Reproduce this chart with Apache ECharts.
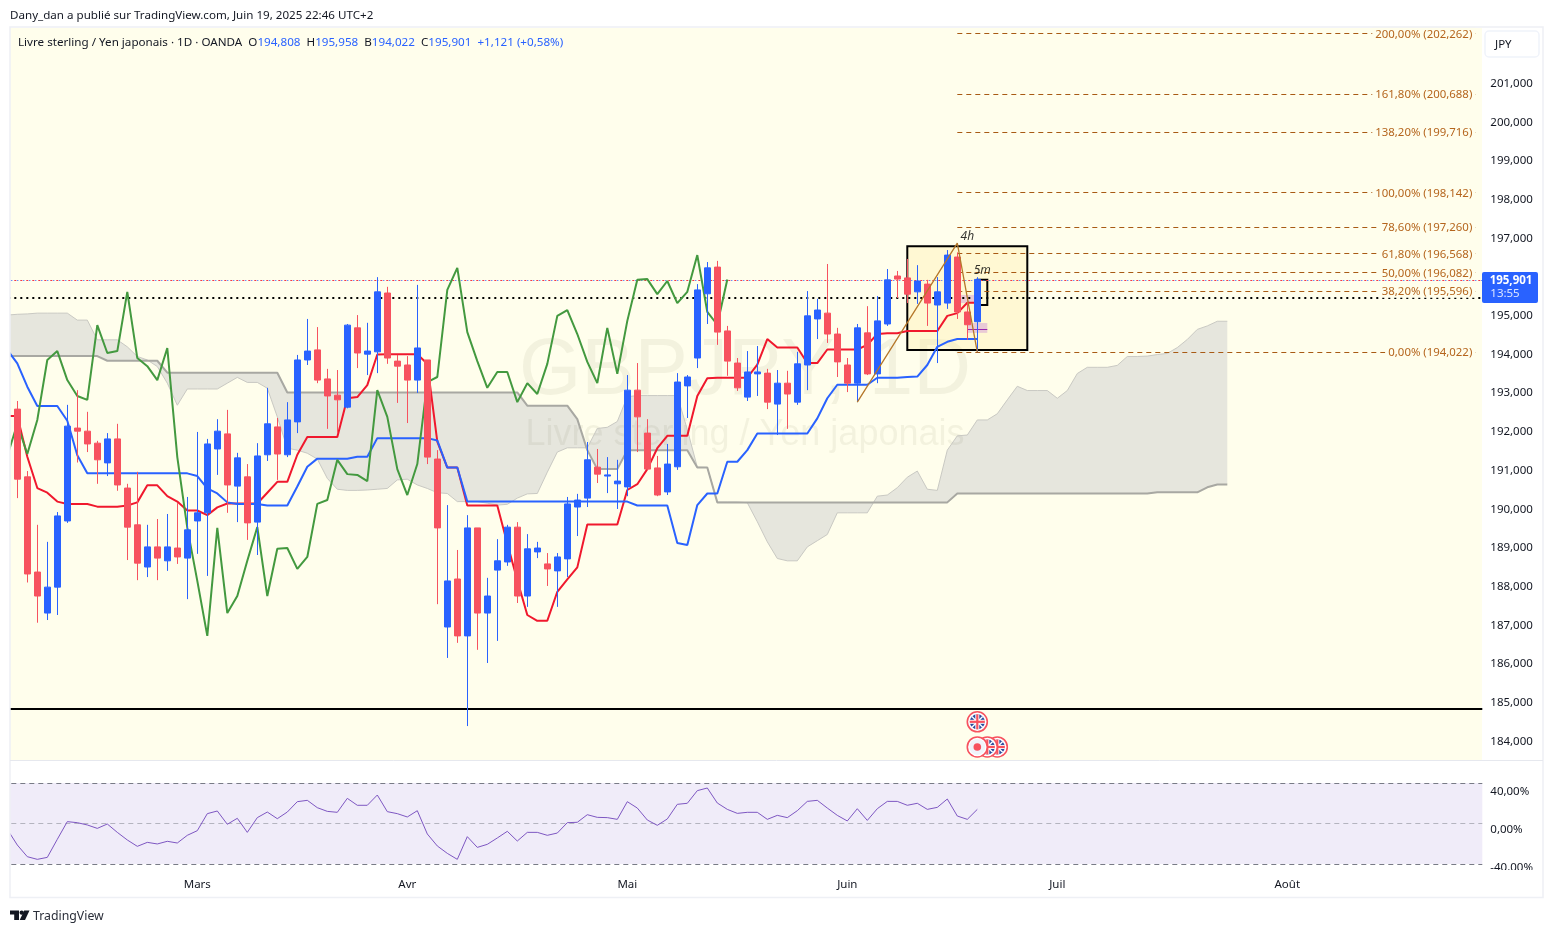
<!DOCTYPE html>
<html><head><meta charset="utf-8"><title>GBPJPY</title>
<style>html,body{margin:0;padding:0;background:#fff}#c{width:1553px;height:933px}</style>
<script src="https://cdn.jsdelivr.net/npm/echarts@6/dist/echarts.min.js"></script>
</head><body><div id="c"></div>
<script>
// ---------- data ----------
const candles = [
['-','-','-','-'],
[192.55,190.74,190.25,192.76],[190.80,188.29,188.07,190.95],[188.34,187.72,187.03,189.56],[187.28,187.95,187.10,189.12],[187.95,189.79,187.23,189.89],
[189.66,192.11,189.61,192.66],[192.06,191.98,191.17,193.04],[191.98,191.65,191.44,192.48],[191.67,191.24,190.62,191.73],[191.16,191.78,190.82,191.93],
[191.78,190.59,190.44,192.17],[190.51,189.50,188.65,190.62],[189.56,188.57,188.13,190.93],[188.47,188.99,188.21,189.56],[188.99,188.70,188.13,189.71],
[188.63,188.99,188.37,189.84],[188.96,188.73,188.55,190.12],[188.70,189.43,187.64,190.28],[189.66,189.87,188.81,191.96],[189.87,191.65,188.24,191.78],
[191.52,191.98,190.85,192.29],[191.91,190.59,189.87,192.53],[190.56,191.29,189.63,191.42],[190.80,189.61,189.17,191.13],[189.63,191.34,188.78,191.67],
[191.37,192.17,191.21,193.10],[192.09,191.39,190.72,192.32],[191.37,192.27,191.31,192.73],[192.22,193.82,191.93,193.95],[193.82,194.05,193.69,194.88],
[194.08,193.30,193.22,194.67],[193.33,192.89,192.04,193.59],[192.91,192.79,191.93,193.56],[192.60,194.72,192.57,194.75],[194.65,194.00,193.61,194.98],
[193.97,194.05,193.43,194.78],[194.03,195.58,193.48,195.96],[195.55,193.87,193.72,195.71],[193.79,193.66,192.71,193.95],[193.69,193.30,192.19,193.92],
[193.30,194.13,192.97,195.76],[193.82,191.31,191.13,193.82],[191.26,189.48,187.51,191.49],[186.92,188.11,186.12,190.07],[188.16,186.69,186.51,188.91],
[186.69,189.48,184.36,189.81],[189.48,187.28,186.33,189.48],[187.28,187.72,185.99,188.19],[188.39,188.63,186.56,189.19],[188.60,189.50,188.50,189.56],
[189.50,187.72,187.54,189.63],[187.72,188.94,187.44,189.32],[188.86,188.96,188.70,189.12],[188.55,188.42,187.98,188.83],[188.37,188.73,187.44,188.83],
[188.68,190.10,188.21,190.28],[190.02,190.20,189.27,190.36],[190.25,191.24,190.02,191.70],[191.05,190.87,190.64,191.52],[190.82,190.85,190.38,191.31],
[190.62,190.69,189.97,191.24],[190.54,193.04,190.30,193.43],[193.04,192.35,191.44,193.74],[191.93,191.00,190.98,192.29],[191.03,190.33,190.30,191.34],
[190.41,191.13,190.33,191.65],[191.06,193.25,190.98,193.48],[193.15,193.38,192.32,193.43],[193.87,195.63,193.61,195.78],[195.53,196.20,194.75,196.35],
[196.22,194.54,194.21,196.38],[194.57,193.79,193.41,194.70],[193.74,193.10,193.02,193.87],[192.86,193.51,192.76,194.05],[193.46,193.51,192.89,194.18],
[193.48,192.73,192.55,193.59],[192.68,193.22,191.88,193.56],[193.22,192.94,192.04,193.54],[192.73,193.72,192.66,194.03],[193.69,194.96,193.04,195.60],
[194.88,195.11,194.36,195.40],[195.03,194.49,194.26,196.30],[194.49,193.77,193.38,194.65],[193.69,193.22,192.99,193.87],[193.22,194.65,192.73,194.75],
[194.52,193.46,193.43,195.21],[193.46,194.83,193.22,195.47],[194.75,195.89,194.70,196.17],[195.99,195.91,195.42,196.12],[195.94,195.52,195.29,196.43],
[195.58,195.86,195.27,196.27],[195.78,195.29,194.70,195.89],[195.24,195.58,193.74,195.96],[195.29,196.53,195.14,196.66],[196.48,195.06,194.88,196.60],
[195.06,194.73,194.34,195.32],[194.808,195.901,194.022,195.958]];
const tenkan = [192.37,192.37,191.32,190.51,190.39,190.16,190.10,190.10,190.10,190.03,190.03,190.03,190.06,190.14,190.58,190.58,190.30,190.16,189.93,189.93,189.81,190.01,190.11,190.11,190.11,190.11,190.39,190.67,190.67,191.37,191.83,191.83,191.83,191.83,192.83,192.86,193.17,193.96,193.97,193.97,193.97,193.97,193.72,191.71,191.04,191.04,190.06,190.06,190.06,190.06,189.08,188.13,187.23,187.08,187.08,187.83,188.15,188.46,189.57,189.57,189.57,189.57,190.46,190.61,191.00,191.54,191.86,191.86,191.86,192.89,193.35,193.36,193.36,193.36,193.36,193.70,194.36,194.14,194.14,194.14,193.74,193.74,194.09,194.09,194.09,194.09,194.21,194.49,194.51,194.51,194.57,194.57,194.57,194.57,194.96,195.03,195.30,195.30];
const kijun = [194.08,193.73,193.13,192.63,192.63,192.63,192.25,191.36,190.89,190.89,190.89,190.89,190.89,190.89,190.89,190.89,190.89,190.89,190.89,190.82,190.50,190.37,190.14,190.10,190.10,190.10,190.06,190.06,190.06,190.55,191.06,191.27,191.27,191.27,191.27,191.32,191.32,191.80,191.80,191.80,191.80,191.80,191.80,191.74,191.04,191.04,190.16,190.16,190.16,190.16,190.16,190.16,190.16,190.16,190.16,190.16,190.16,190.16,190.16,190.16,190.16,190.16,190.16,190.06,190.06,190.06,190.06,189.09,189.04,190.07,190.37,190.37,191.19,191.19,191.49,191.92,191.92,191.92,191.92,191.92,191.92,192.31,192.83,193.18,193.18,193.18,193.18,193.36,193.36,193.36,193.38,193.39,193.69,194.16,194.29,194.36,194.36,194.36];
const chikou = [191.34,192.17,191.39,192.27,193.82,194.05,193.30,192.89,192.79,194.72,194.00,194.05,195.58,193.87,193.66,193.30,194.13,191.31,189.48,188.11,186.69,189.48,187.28,187.72,188.63,189.50,187.72,188.94,188.96,188.42,188.73,190.10,190.20,191.24,190.87,190.85,190.69,193.04,192.35,191.00,190.33,191.13,193.25,193.38,195.63,196.20,194.54,193.79,193.10,193.51,193.51,192.73,193.22,192.94,193.72,194.96,195.11,194.49,193.77,193.22,194.65,193.46,194.83,195.89,195.91,195.52,195.86,195.29,195.58,196.53,195.06,194.73,195.901];
const senkouA = [194.98,195.00,195.01,195.03,195.03,195.03,195.03,194.85,194.85,194.34,194.34,194.34,194.16,193.91,193.82,193.65,193.22,192.65,193.07,193.07,193.07,193.07,193.22,193.37,193.24,193.24,193.09,192.35,191.54,191.49,191.41,191.26,190.76,190.48,190.45,190.45,190.46,190.48,190.50,190.72,190.74,190.59,190.50,190.39,190.37,190.16,190.16,190.16,190.12,190.07,190.09,190.25,190.36,190.37,190.92,191.44,191.55,191.55,191.55,192.05,192.08,192.23,192.87,192.90,192.90,192.90,192.90,192.90,192.02,191.05,191.04,190.15,190.15,190.15,190.13,189.64,189.12,188.69,188.63,188.63,188.99,189.15,189.31,189.87,189.87,189.87,189.87,190.30,190.33,190.52,190.79,190.95,190.48,190.45,191.49,191.86,191.88,192.27,192.27,192.43,192.79,193.14,193.03,193.03,193.03,192.83,193.03,193.47,193.63,193.63,193.63,193.68,193.91,193.91,193.92,193.96,193.99,194.14,194.35,194.61,194.70,194.82,194.82];
const senkouB = [193.92,193.92,193.92,193.92,193.92,193.92,193.92,193.92,193.92,193.92,193.80,193.80,193.80,193.80,193.80,193.80,193.49,193.49,193.49,193.49,193.49,193.49,193.49,193.49,193.49,193.49,193.49,193.49,192.98,192.98,192.98,192.98,192.98,192.98,192.98,192.98,192.98,192.98,192.98,192.98,192.98,192.98,192.98,192.98,192.98,192.98,192.98,192.98,192.98,192.98,192.98,192.98,192.64,192.64,192.64,192.64,192.64,192.29,191.49,191.00,191.00,191.00,191.49,191.49,191.49,191.49,191.49,191.49,191.49,191.04,191.04,190.14,190.14,190.14,190.14,190.14,190.14,190.14,190.14,190.14,190.14,190.14,190.14,190.14,190.14,190.14,190.14,190.14,190.14,190.14,190.14,190.14,190.14,190.14,190.14,190.37,190.37,190.37,190.37,190.37,190.37,190.37,190.37,190.37,190.37,190.37,190.37,190.37,190.37,190.37,190.37,190.37,190.37,190.37,190.37,190.40,190.40,190.40,190.40,190.40,190.53,190.60,190.60];
const rsiValues = [-1.4,-17.9,-30.2,-33.0,-30.9,-11.9,6.7,5.6,3.2,-0.4,4.2,-4.6,-12.6,-19.3,-15.1,-16.8,-14.0,-15.8,-7.7,-2.8,15.1,17.9,3.9,10.2,-4.6,10.9,16.8,9.8,16.8,27.7,29.1,21.4,17.5,16.5,31.2,23.9,23.9,34.7,17.2,15.1,11.6,18.2,-6.3,-18.9,-26.7,-33.0,-9.1,-20.4,-17.2,-10.5,-3.5,-13.7,-4.6,-4.6,-7.7,-5.3,5.6,6.0,14.0,11.2,10.9,9.1,27.7,21.0,8.4,2.8,9.5,24.9,26.0,39.3,42.1,26.3,19.6,15.4,16.5,16.5,9.1,13.3,10.9,18.2,28.0,29.1,21.0,13.3,7.4,20.3,8.0,20.3,28.0,28.0,23.9,26.0,19.6,21.7,30.5,12.6,9.1,19.6];
const rsiBands = [47.4,5.3,-37.9];
const fibPercents = ['200,00%','161,80%','138,20%','100,00%','78,60%','61,80%','50,00%','38,20%','0,00%'];
const fibPrices = [202.262,200.688,199.716,198.142,197.260,196.568,196.082,195.596,194.022];
const zigzag = [[85,192.73],[95,196.84],[97,194.022]];
const boxFourHour = [[90,196.76],[102,194.08]];
const boxFiveMin = [[97,195.89],[98,195.24]];
const supportLevel = 184.81, dottedLevel = 195.42, closeLevel = 195.87;
const events = [[97,184.47,'flag'],[99,183.82,'flag'],[98,183.82,'flag'],[97,183.82,'dot']];
const priceTicks = [184,185,186,187,188,189,190,191,192,193,194,195,196,197,198,199,200,201];
const rsiTicks = [40,0,-40];
const monthLabels = {'2025-03-03':'Mars','2025-04-01':'Avr','2025-05-01':'Mai','2025-06-02':'Juin','2025-07-01':'Juil','2025-08-01':'Août'};

// trading days: one category per weekday
const categories = [];
for (let d = new Date(Date.UTC(2025,1,4)); categories.length < 148; d = new Date(d.getTime()+864e5)) {
  const w = d.getUTCDay(); if (w !== 0 && w !== 6) categories.push(d.toISOString().slice(0,10));
}
const TXT = '#131722', UP = '#2962FF', DOWN = '#F7525F', FIB = '#A85A14';
const FONT = 'Noto Sans';
const fr = v => v.toFixed(3).replace('.',',');
const lowered = {a:{padding:[3,0,0,0],fontSize:11.5,color:TXT,fontFamily:FONT}};

const chart = echarts.init(document.getElementById('c'), null, {renderer:'canvas'});
chart.setOption({
  animation:false,
  backgroundColor:'#ffffff',
  textStyle:{fontFamily:FONT,color:TXT},
  title:[
    {left:10,top:10,padding:0,text:'Dany_dan a publié sur TradingView.com, Juin 19, 2025 22:46 UTC+2',textStyle:{fontSize:11.6,fontWeight:'normal',color:TXT,fontFamily:FONT}},
    {left:18,top:37,padding:0,text:'{a|Livre sterling / Yen japonais · 1D · OANDA  O}{b|194,808}{a|  H}{b|195,958}{a|  B}{b|194,022}{a|  C}{b|195,901}{b|  +1,121 (+0,58%)}',
     textStyle:{fontWeight:'normal',rich:{a:{fontSize:11.65,fontWeight:'normal',color:TXT,fontFamily:FONT},b:{fontSize:11.65,fontWeight:'normal',color:UP,fontFamily:FONT}}}},
    {left:33,top:910,padding:0,text:'TradingView',textStyle:{fontSize:12.3,fontWeight:'normal',color:'#2a2e39',fontFamily:FONT}}
  ],
  grid:[
    {left:2.3,width:1480,top:28,height:732},
    {left:2.3,width:1480,top:761,height:109}
  ],
  xAxis:[
    {type:'category',gridIndex:0,data:categories,boundaryGap:true,axisLine:{show:false},axisTick:{show:false},axisLabel:{show:false},splitLine:{show:false}},
    {type:'category',gridIndex:1,data:categories,boundaryGap:true,axisLine:{show:false},axisTick:{show:false},splitLine:{show:false},
     axisLabel:{color:TXT,fontSize:11.5,margin:9,interval:(i,v)=>!!monthLabels[v],formatter:v=>monthLabels[v]||'',hideOverlap:false}}
  ],
  yAxis:[
    {type:'value',gridIndex:0,position:'right',min:183.483,max:202.398,axisLine:{show:false},axisTick:{show:false},splitLine:{show:false},
     axisLabel:{customValues:priceTicks,margin:8,rich:lowered,formatter:v=>'{a|'+fr(v)+'}'}},
    {type:'value',gridIndex:1,position:'right',min:-44.2,max:70.5,axisLine:{show:false},axisTick:{show:false},splitLine:{show:false},
     axisLabel:{customValues:rsiTicks,margin:8,rich:lowered,formatter:v=>'{a|'+v.toFixed(2).replace('.',',')+'%}'}}
  ],
  series:[
    {name:'Nuage',type:'custom',xAxisIndex:0,yAxisIndex:0,z:3,silent:true,clip:false,data:[[0,senkouA[0]]],encode:{x:0,y:1},
     renderItem:(p,api)=>{
       const pts=[];
       senkouA.forEach((v,i)=>pts.push(api.coord([i,v])));
       for(let i=senkouB.length-1;i>=0;i--)pts.push(api.coord([i,senkouB[i]]));
       return {type:'polygon',shape:{points:pts},style:{fill:'#E6E6DD'}};
     }},
    {name:'Senkou A',type:'line',data:senkouA,symbol:'none',z:4,silent:true,lineStyle:{color:'#C9C9C3',width:1}},
    {name:'Senkou B',type:'line',data:senkouB,symbol:'none',z:4,silent:true,lineStyle:{color:'#A8A8A2',width:2}},
    {name:'Niveaux',type:'line',data:[],z:5,silent:true,
     markArea:{silent:true,z:5,data:[
       [{coord:boxFourHour[0],itemStyle:{color:'rgba(255,236,160,0.32)',borderColor:'#000',borderWidth:2}},{coord:boxFourHour[1]}],
       [{coord:boxFiveMin[0],itemStyle:{color:'rgba(0,0,0,0)',borderColor:'#000',borderWidth:2}},{coord:boxFiveMin[1]}],
       [{coord:[96,194.775],itemStyle:{color:'rgba(206,147,216,0.45)'}},{coord:[98,194.52]}],
       [{coord:[95,195.5],itemStyle:{color:'rgba(206,147,216,0.45)'}},{coord:[97,195.29]}]
     ]},
     markLine:{silent:true,symbol:'none',z:5,label:{show:false},data:[
       {yAxis:supportLevel,lineStyle:{color:'#000',width:2,type:'solid'}},
       {yAxis:dottedLevel,lineStyle:{color:'#000',width:2,type:[2,4]}},
       {yAxis:closeLevel,lineStyle:{color:UP,width:1,type:[1,5],dashOffset:3}},
       {yAxis:closeLevel,lineStyle:{color:'#F23645',width:1,type:[2,4]}}
     ]}},
    {name:'Tenkan',type:'line',data:tenkan,symbol:'none',z:6,silent:true,lineStyle:{color:'#F0182D',width:2}},
    {name:'Kijun',type:'line',data:kijun,symbol:'none',z:6,silent:true,lineStyle:{color:UP,width:2}},
    {name:'Chikou',type:'line',data:chikou,symbol:'none',z:6,silent:true,lineStyle:{color:'#43993F',width:2}},
    {name:'Fib',type:'line',data:[],z:7,silent:true,
     markLine:{silent:true,symbol:'none',z:7,data:fibPrices.map((v,i)=>[
       {coord:[95,v],lineStyle:{color:FIB,width:1,type:[5,4]},
        label:{show:true,position:'insideEnd',distance:2,formatter:'{t|'+fibPercents[i]+' ('+fr(v)+')}',backgroundColor:'#FFFEEC',padding:[0,3],
               rich:{t:{padding:[2,0,0,0],color:'#B5651D',fontSize:11.4,fontFamily:FONT}}}},
       {coord:[147,v]}
     ]).concat([[{coord:[96,194.62],lineStyle:{color:'#9C27B0',width:1,type:'solid'},label:{show:false}},{coord:[98,194.62]}]])}},
    {name:'GBPJPY',type:'candlestick',data:candles,z:8,silent:true,barWidth:6,
     itemStyle:{color:UP,color0:DOWN,borderColor:UP,borderColor0:DOWN,borderWidth:1}},
    {name:'Fib base',type:'line',data:zigzag,symbol:'none',z:9,silent:true,lineStyle:{color:'#B5772A',width:1.3}},
    {name:'Notes',type:'scatter',data:[{value:[96,197.02],label:{formatter:'4h'}},{value:[97,196.12],label:{formatter:'5m',offset:[5,0]}}],symbolSize:0,z:10,silent:true,
     label:{show:true,position:'inside',color:'#000',fontStyle:'italic',fontSize:12,fontFamily:FONT}},
    {name:'Evénements',type:'custom',data:events,encode:{x:0,y:1},z:10,silent:true,clip:false,
     renderItem:(p,api)=>{
       const c=api.coord([api.value(0),api.value(1)]), x=c[0], y=c[1], k=events[p.dataIndex][2];
       const ch=[{type:'circle',shape:{cx:x,cy:y,r:10},style:{fill:'#fff',stroke:'#F7525F',lineWidth:1.6}}];
       if(k==='dot'){
         ch.push({type:'circle',shape:{cx:x,cy:y,r:8},style:{fill:'#F0F3FA'}});
         ch.push({type:'circle',shape:{cx:x,cy:y,r:3.8},style:{fill:'#F7525F'}});
       }else{
         ch.push({type:'circle',shape:{cx:x,cy:y,r:7.5},style:{fill:'#2B4C9E'}});
         [[-5.4,-5.4,5.4,5.4],[-5.4,5.4,5.4,-5.4]].forEach(s=>ch.push({type:'line',shape:{x1:x+s[0],y1:y+s[1],x2:x+s[2],y2:y+s[3]},style:{stroke:'#fff',lineWidth:1.4}}));
         [[0,-7.5,0,7.5],[-7.5,0,7.5,0]].forEach(s=>ch.push({type:'line',shape:{x1:x+s[0],y1:y+s[1],x2:x+s[2],y2:y+s[3]},style:{stroke:'#fff',lineWidth:4}}));
         [[0,-7.5,0,7.5],[-7.5,0,7.5,0]].forEach(s=>ch.push({type:'line',shape:{x1:x+s[0],y1:y+s[1],x2:x+s[2],y2:y+s[3]},style:{stroke:'#F7525F',lineWidth:2.2}}));
       }
       return {type:'group',children:ch};
     }},
    {name:'RSI',type:'line',xAxisIndex:1,yAxisIndex:1,data:rsiValues,symbol:'none',z:6,silent:true,lineStyle:{color:'#7E57C2',width:1},
     markArea:{silent:true,z:3,itemStyle:{color:'#F0ECF9'},data:[[{yAxis:rsiBands[0]},{yAxis:rsiBands[2]}]]},
     markLine:{silent:true,symbol:'none',z:4,label:{show:false},data:[
       {yAxis:rsiBands[0],lineStyle:{color:'#787B86',width:1,type:[5,4]}},
       {yAxis:rsiBands[1],lineStyle:{color:'rgba(120,123,134,0.5)',width:1,type:[5,4]}},
       {yAxis:rsiBands[2],lineStyle:{color:'#787B86',width:1,type:[5,4]}}
     ]}}
  ],
  graphic:[
    {type:'rect',z:0,silent:true,shape:{x:10,y:28,width:1472,height:732},style:{fill:'#FFFEEC'}},
    {type:'text',z:4,silent:true,style:{x:745,y:372,text:'GBPJPY, 1D',align:'center',verticalAlign:'middle',fontFamily:'Liberation Sans',fontSize:80,fill:'rgba(90,90,60,0.075)'}},
    {type:'text',z:4,silent:true,style:{x:745,y:435,text:'Livre sterling / Yen japonais',align:'center',verticalAlign:'middle',fontFamily:'Liberation Sans',fontSize:36,fill:'rgba(90,90,60,0.075)'}},
    // masks and frame
    {type:'rect',z:50,silent:true,shape:{x:0,y:27,width:10,height:871},style:{fill:'#fff'}},
    {type:'rect',z:50,silent:true,shape:{x:1483,y:870,width:60,height:27},style:{fill:'#fff'}},
    {type:'rect',z:51,silent:true,shape:{x:10,y:27,width:1533,height:870.5},style:{fill:'none',stroke:'#EEF0F5',lineWidth:1.5}},
    {type:'line',z:51,silent:true,shape:{x1:10,y1:760.5,x2:1543,y2:760.5},style:{stroke:'#E6E8EE',lineWidth:1}},
    // currency chip and last-price tag
    {type:'rect',z:52,silent:true,shape:{x:1485,y:31,width:54,height:26,r:4},style:{fill:'#fff',stroke:'#F0F3FA',lineWidth:1.5}},
    {type:'text',z:53,silent:true,style:{x:1495,y:45,text:'JPY',verticalAlign:'middle',fontFamily:FONT,fontSize:11.5,fill:TXT}},
    {type:'rect',z:52,silent:true,shape:{x:1482,y:272,width:56,height:31,r:2},style:{fill:UP}},
    {type:'text',z:53,silent:true,style:{x:1511,y:280.5,text:'195,901',align:'center',verticalAlign:'middle',fontFamily:FONT,fontSize:11.5,fontWeight:'bold',fill:'#fff'}},
    {type:'text',z:53,silent:true,style:{x:1505,y:294,text:'13:55',align:'center',verticalAlign:'middle',fontFamily:FONT,fontSize:11.5,fill:'#DCE6FF'}},
    // TradingView mark
    {type:'polygon',z:53,silent:true,shape:{points:[[10,910.5],[19,910.5],[19,920],[14.2,920],[14.2,914.6],[10,914.6]]},style:{fill:'#131722'}},
    {type:'polygon',z:53,silent:true,shape:{points:[[24.2,910.5],[29.5,910.5],[25,920],[19.7,920]]},style:{fill:'#131722'}},
    {type:'circle',z:53,silent:true,shape:{cx:21.7,cy:912.6,r:2.2},style:{fill:'#131722'}}
  ]
});
</script></body></html>
